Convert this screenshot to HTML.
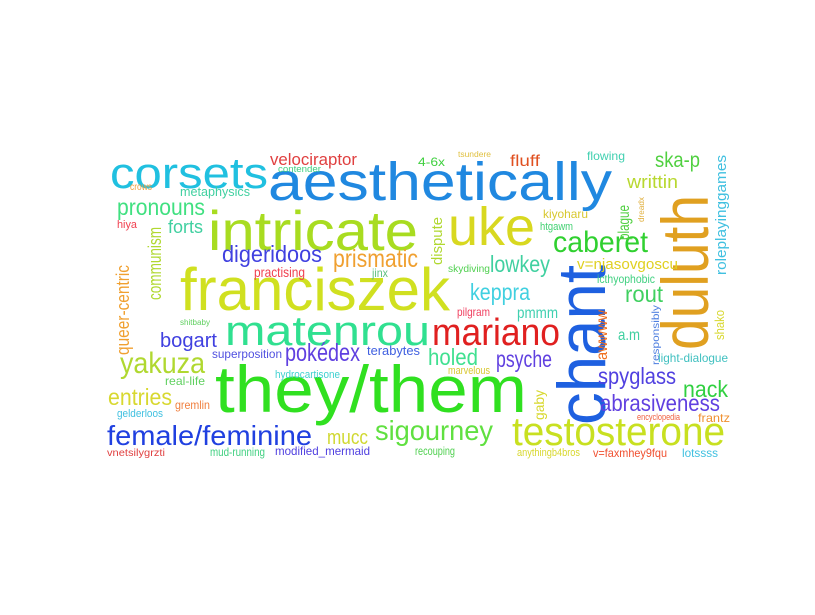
<!DOCTYPE html>
<html><head><meta charset="utf-8"><style>
html,body{margin:0;padding:0;background:#fff;}
svg{display:block;}
text{font-family:"Liberation Sans","DejaVu Sans",sans-serif;}
</style></head><body>
<svg id="cloud" width="815" height="615" viewBox="0 0 815 615" xmlns="http://www.w3.org/2000/svg">
<rect width="815" height="615" fill="#fff"/>
</svg>
<script>
// [text, x, baseline, width, fontSize, color, rotated]
const words = [
["aesthetically",268,200,344,54,"#2088e0",0],
["corsets",110,188,158,44,"#20c0e0",0],
["intricate",208,250,210,56,"#a8dc20",0],
["uke",448,245,87,54,"#d8d820",0],
["franciszek",180,310,270,60,"#d0e020",0],
["matenrou",225,345,205,42,"#30e090",0],
["they/them",215,412,312,66,"#30e020",0],
["chant",605,425,160,68,"#1e60e0",1],
["duluth",708,350,155,66,"#e0a020",1],
["mariano",432,345,128,38,"#e02020",0],
["testosterone",512,445,213,40,"#c8e020",0],
["female/feminine",107,445,205,28,"#2040e0",0],
["sigourney",375,440,118,28,"#60e040",0],
["caberet",553,252,95,30,"#30d030",0],
["prismatic",333,267,85,25,"#f0a030",0],
["digeridoos",222,262,100,23,"#4040e0",0],
["pronouns",117,215,88,23,"#40e080",0],
["forts",168,233,35,18,"#40d0a0",0],
["metaphysics",180,196,70,13,"#40d0a0",0],
["velociraptor",270,165,87,17,"#e04040",0],
["communism",161,300,73,18,"#b0d830",1],
["queer-centric",129,355,90,18,"#f0a030",1],
["yakuza",120,373,85,30,"#b0d830",0],
["bogart",160,347,57,20,"#4040e0",0],
["pokédex",285,361,75,25,"#6040e0",0],
["superposition",212,358,70,12,"#5050e0",0],
["entries",108,405,64,23,"#d8d830",0],
["gremlin",175,409,35,12,"#f08040",0],
["gelderloos",117,417,46,11,"#40c0e0",0],
["hydrocartisone",275,378,65,11,"#40d0d0",0],
["terabytes",367,355,53,13,"#4060e0",0],
["real-life",165,385,40,12,"#60d060",0],
["mucc",327,444,41,20,"#d0d830",0],
["mud-running",210,456,55,12,"#40d080",0],
["modified_mermaid",275,455,95,12,"#5040e0",0],
["vnetsilygrzti",107,456,58,10,"#e04040",0],
["keppra",470,300,60,23,"#40d0e0",0],
["lowkey",490,272,60,23,"#40d0a0",0],
["dispute",442,265,48,15,"#b0d830",1],
["holed",428,365,50,23,"#40e090",0],
["psyche",496,367,56,23,"#6040e0",0],
["pmmm",517,318,41,16,"#40d0b0",0],
["pilgram",457,316,33,12,"#f04060",0],
["gaby",544,420,30,14,"#d8d830",1],
["spyglass",598,384,78,23,"#5040e0",0],
["abrasiveness",600,411,120,23,"#6040e0",0],
["nack",683,397,45,23,"#30d040",0],
["light-dialogue",658,362,70,12,"#40c0c0",0],
["frantz",698,422,32,12,"#f09030",0],
["encyclopedia",637,420,43,9,"#f06040",0],
["rout",625,302,38,23,"#40d060",0],
["a.m",618,340,22,16,"#40d0a0",0],
["awwww",607,360,50,16,"#f07020",1],
["plague",629,240,35,16,"#50d040",1],
["ska-p",655,167,45,21,"#50d040",0],
["writtin",627,188,51,18,"#b8d830",0],
["roleplayinggames",726,275,120,15,"#40c0e0",1],
["shako",724,340,30,13,"#d8d830",1],
["responsibly",659,365,60,10,"#5080e0",1],
["v=njasovgoscu",577,269,101,15,"#e0d020",0],
["icthyophobic",597,283,58,12,"#40d080",0],
["flowing",587,160,38,12,"#40d0b0",0],
["fluff",510,166,30,16,"#e05020",0],
["4-6x",418,166,27,12,"#40d040",0],
["kiyoharu",543,218,45,12,"#d8c830",0],
["htgawm",540,230,33,11,"#40d070",0],
["skydiving",448,272,42,10,"#50d050",0],
["lotssss",682,457,36,12,"#40c0e0",0],
["v=faxmhey9fqu",593,457,74,12,"#f05030",0],
["anythingb4bros",517,456,63,11,"#d8d830",0],
["recouping",415,455,40,12,"#50d050",0],
["marvelous",448,374,42,11,"#d8c830",0],
["jinx",372,277,16,12,"#60c080",0],
["practising",254,277,51,14,"#f04050",0],
["hiya",117,228,20,11,"#f04050",0],
["crows",130,190,22,10,"#f0a040",0],
["shitbaby",180,325,30,8,"#60d060",0],
["tsundere",458,157,33,8,"#e0c040",0],
["contender",278,172,43,9,"#40d080",0],
["dreadx",644,222,25,8,"#e0b040",1]
];
const svg = document.getElementById('cloud');
const NS = 'http://www.w3.org/2000/svg';
for (const w of words) {
  const t = document.createElementNS(NS, 'text');
  
  
  t.setAttribute('font-size', w[4]);
  t.setAttribute('fill', w[5]);
  t.setAttribute('textLength', w[3]);
  t.setAttribute('lengthAdjust', 'spacingAndGlyphs');
  if (w[6]) {
    t.setAttribute('transform', 'translate(' + w[1] + ',' + w[2] + ') rotate(-90)');
    t.setAttribute('x', 0);
    t.setAttribute('y', 0);
  } else {
    t.setAttribute('x', w[1]);
    t.setAttribute('y', w[2]);
  }
  t.textContent = w[0];
  svg.appendChild(t);
}
</script>
</body></html>
